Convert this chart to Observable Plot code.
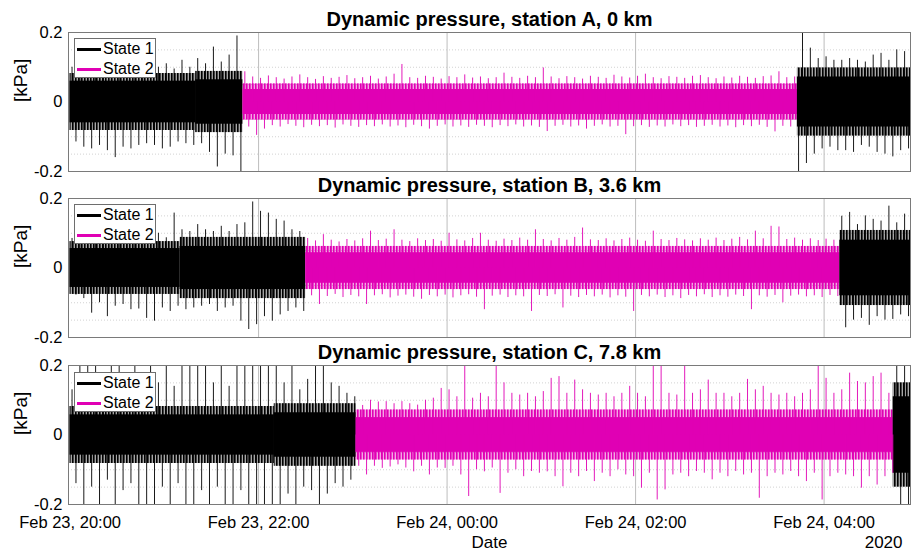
<!DOCTYPE html>
<html><head><meta charset="utf-8">
<script src="https://cdn.jsdelivr.net/npm/d3@7"></script>
<script src="https://cdn.jsdelivr.net/npm/@observablehq/plot@0.6"></script>
<style>
body{margin:0;background:#fff;}
#chart{position:relative;width:911px;height:551px;font-family:"Liberation Sans",Arial,Helvetica,sans-serif;overflow:hidden;}
.panel{position:absolute;left:0;}
.legend{position:absolute;left:74px;width:80px;height:38px;background:#fff;border:1px solid #6e6e6e;font-size:16px;}
.sw{position:absolute;left:2px;width:24px;height:3px;}
.lbl{position:absolute;left:28px;line-height:16px;white-space:nowrap;color:#000;}
</style></head>
<body><div id="chart"></div>
<script>
// ---------- data ----------
const titles = ["Dynamic pressure, station A, 0 km", "Dynamic pressure, station B, 3.6 km", "Dynamic pressure, station C, 7.8 km"];
const legendLabels = ["State 1", "State 2"];
const xTicks = ["2020-02-23T20:00Z", "2020-02-23T22:00Z", "2020-02-24T00:00Z", "2020-02-24T02:00Z", "2020-02-24T04:00Z"];
const yTicks = [-0.2, 0, 0.2];
const yGrid = [-0.15, -0.1, -0.05, 0.05, 0.1, 0.15];
const xDomain = ["2020-02-23T19:59Z", "2020-02-24T04:55Z"];
const binStart = "2020-02-23T20:00Z";
const binMinutes = 5;

// segments: start time, state, dense core amplitude, fuzzy band amplitude (kPa)
const segStartA = ["2020-02-23T20:00Z", "2020-02-23T21:20Z", "2020-02-23T21:50Z", "2020-02-24T03:43Z"];
const segStateA = [1, 1, 2, 1];
const coreA = [0.060, 0.064, 0.036, 0.072];
const fuzzA = [0.082, 0.088, 0.052, 0.098];

const segStartB = ["2020-02-23T20:00Z", "2020-02-23T21:10Z", "2020-02-23T22:30Z", "2020-02-24T04:10Z"];
const segStateB = [1, 1, 2, 1];
const coreB = [0.056, 0.062, 0.044, 0.080];
const fuzzB = [0.076, 0.088, 0.062, 0.108];

const segStartC = ["2020-02-23T20:00Z", "2020-02-23T22:10Z", "2020-02-23T23:02Z", "2020-02-24T04:44Z"];
const segStateC = [1, 1, 2, 1];
const coreC = [0.058, 0.064, 0.050, 0.110];
const fuzzC = [0.082, 0.090, 0.072, 0.150];

// peak values per 5-minute bin (kPa)
const upperA = [
 .100,.105,.095,.110,.100,.115,.100,.110,.120,.105,
 .110,.100,.110,.095,.120,.100,.125,.110,.158,.115,
 .135,.190,.087,.072,.068,.075,.070,.066,.072,.078,
 .070,.065,.073,.068,.071,.076,.067,.070,.074,.066,
 .072,.080,.108,.070,.068,.074,.071,.066,.073,.070,
 .078,.069,.072,.067,.070,.083,.071,.068,.074,.070,
 .098,.072,.067,.073,.070,.066,.074,.071,.068,.077,
 .072,.069,.074,.080,.070,.067,.073,.071,.068,.074,
 .076,.070,.067,.072,.069,.074,.071,.068,.073,.075,
 .087,.070,.072,.200,.155,.125,.130,.120,.120,.125,
 .120,.115,.135,.140,.120,.150,.145];
const lowerA = [
 -.115,-.130,-.135,-.125,-.140,-.160,-.130,-.135,-.125,-.120,
 -.125,-.135,-.130,-.115,-.120,-.125,-.120,-.145,-.187,-.150,
 -.155,-.210,-.072,-.096,-.078,-.068,-.072,-.065,-.070,-.074,
 -.067,-.071,-.068,-.075,-.066,-.070,-.073,-.068,-.071,-.066,
 -.072,-.069,-.074,-.067,-.071,-.078,-.070,-.066,-.072,-.069,
 -.073,-.067,-.070,-.074,-.068,-.071,-.066,-.072,-.069,-.073,
 -.085,-.070,-.067,-.072,-.069,-.078,-.070,-.066,-.072,-.070,
 -.094,-.071,-.068,-.073,-.069,-.072,-.066,-.071,-.068,-.073,
 -.070,-.067,-.072,-.069,-.074,-.068,-.071,-.067,-.073,-.086,
 -.070,-.072,-.210,-.177,-.150,-.135,-.130,-.140,-.140,-.145,
 -.125,-.130,-.145,-.150,-.158,-.140,-.135];
const upperB = [
 .085,.090,.095,.085,.100,.090,.095,.100,.090,.105,
 .095,.100,.087,.158,.110,.105,.125,.110,.105,.120,
 .105,.125,.130,.190,.163,.158,.140,.135,.110,.105,
 .085,.078,.096,.080,.075,.082,.078,.084,.106,.079,
 .083,.110,.080,.076,.084,.079,.082,.077,.100,.081,
 .078,.085,.100,.080,.077,.083,.079,.086,.080,.110,
 .082,.078,.085,.080,.088,.115,.081,.079,.084,.078,
 .082,.086,.080,.077,.106,.082,.079,.085,.081,.078,
 .084,.080,.086,.079,.083,.088,.081,.106,.084,.120,
 .118,.082,.086,.080,.084,.079,.083,.080,.149,.160,
 .125,.150,.140,.135,.178,.130,.155];
const lowerB = [
 -.078,-.088,-.130,-.100,-.140,-.110,-.105,-.120,-.118,-.145,
 -.153,-.115,-.125,-.110,-.120,-.115,-.110,-.105,-.125,-.115,
 -.110,-.153,-.177,-.163,-.140,-.153,-.135,-.125,-.115,-.125,
 -.080,-.105,-.082,-.076,-.085,-.079,-.083,-.105,-.080,-.077,
 -.086,-.081,-.078,-.084,-.090,-.079,-.083,-.078,-.086,-.080,
 -.077,-.084,-.120,-.081,-.078,-.085,-.080,-.083,-.125,-.079,
 -.082,-.077,-.115,-.081,-.085,-.079,-.083,-.078,-.086,-.080,
 -.084,-.125,-.079,-.083,-.078,-.085,-.080,-.088,-.079,-.083,
 -.077,-.085,-.080,-.084,-.078,-.082,-.120,-.080,-.084,-.079,
 -.100,-.081,-.078,-.083,-.080,-.085,-.079,-.082,-.172,-.150,
 -.145,-.165,-.140,-.150,-.148,-.135,-.140];
const upperC = [
 .130,.250,.250,.250,.140,.250,.250,.140,.250,.130,
 .250,.150,.250,.140,.250,.250,.250,.250,.150,.250,
 .140,.250,.250,.250,.250,.250,.250,.150,.250,.130,
 .160,.250,.250,.150,.140,.120,.110,.085,.100,.095,
 .096,.090,.096,.090,.086,.100,.106,.134,.130,.110,
 .250,.106,.120,.110,.210,.150,.120,.115,.120,.110,
 .125,.163,.168,.120,.158,.130,.120,.115,.120,.110,
 .120,.140,.120,.110,.250,.250,.120,.115,.200,.120,
 .130,.158,.120,.120,.110,.120,.160,.130,.140,.120,
 .115,.120,.110,.120,.130,.250,.163,.120,.130,.178,
 .154,.150,.168,.178,.120,.250,.250];
const lowerC = [
 -.140,-.250,-.150,-.250,-.130,-.250,-.160,-.140,-.250,-.250,
 -.250,-.150,-.250,-.140,-.250,-.250,-.160,-.250,-.150,-.250,
 -.250,-.160,-.250,-.250,-.250,-.250,-.250,-.170,-.250,-.150,
 -.160,-.250,-.170,-.140,-.150,-.130,-.090,-.115,-.090,-.096,
 -.092,-.086,-.095,-.106,-.090,-.115,-.095,-.096,-.090,-.115,
 -.177,-.100,-.106,-.095,-.168,-.110,-.100,-.120,-.105,-.110,
 -.106,-.120,-.149,-.110,-.120,-.105,-.134,-.110,-.120,-.100,
 -.115,-.120,-.153,-.110,-.187,-.158,-.115,-.110,-.120,-.105,
 -.110,-.129,-.110,-.120,-.105,-.115,-.110,-.182,-.120,-.110,
 -.115,-.105,-.120,-.134,-.110,-.187,-.120,-.110,-.115,-.120,
 -.153,-.120,-.144,-.120,-.110,-.250,-.250];

// ---------- drawing ----------
const COL = {1: "#000000", 2: "#e000b4"};
const FONT = '"Liberation Sans", Arial, Helvetica, sans-serif';
const t0 = new Date(xDomain[0]), t1 = new Date(xDomain[1]);
const tb = new Date(binStart);
const fmt = d3.utcFormat("%b %d, %H:%M");

const panels = [
  {id: "a", title: titles[0], segStart: segStartA, segState: segStateA, core: coreA, fuzz: fuzzA, upper: upperA, lower: lowerA, top: 0},
  {id: "b", title: titles[1], segStart: segStartB, segState: segStateB, core: coreB, fuzz: fuzzB, upper: upperB, lower: lowerB, top: 166},
  {id: "c", title: titles[2], segStart: segStartC, segState: segStateC, core: coreC, fuzz: fuzzC, upper: upperC, lower: lowerC, top: 333, xaxis: true}
];

const chart = document.getElementById("chart");
const tickDates = xTicks.map(s => new Date(s));
const NS = "http://www.w3.org/2000/svg";

// vertical-stripe patterns used to texture the dense band edges
function patternDefs(id) {
  return () => {
    const defs = document.createElementNS(NS, "defs");
    [1, 2].forEach(s => {
      const pat = document.createElementNS(NS, "pattern");
      pat.setAttribute("id", `hatch-${id}-${s}`);
      pat.setAttribute("patternUnits", "userSpaceOnUse");
      pat.setAttribute("width", "3"); pat.setAttribute("height", "20");
      const r = document.createElementNS(NS, "rect");
      r.setAttribute("x", "0"); r.setAttribute("y", "0");
      r.setAttribute("width", "1.6"); r.setAttribute("height", "20");
      r.setAttribute("fill", COL[s]);
      pat.appendChild(r);
      defs.appendChild(pat);
    });
    return defs;
  };
}

panels.forEach(p => {
  const starts = p.segStart.map(s => new Date(s));
  const segs = starts.map((s, k) => ({k, x1: s, x2: k + 1 < starts.length ? starts[k + 1] : t1,
    state: p.segState[k], core: p.core[k], fuzz: p.fuzz[k]}));
  const stateAt = t => { let s = segs[0].state; segs.forEach(g => { if (g.x1 <= t) s = g.state; }); return s; };
  const spikes = [];
  p.upper.forEach((v, i) => { const t = new Date(+tb + (i * binMinutes + 1.25) * 60000); spikes.push({t, v, state: stateAt(t)}); });
  p.lower.forEach((v, i) => { const t = new Date(+tb + (i * binMinutes + 3.75) * 60000); spikes.push({t, v, state: stateAt(t)}); });

  const marks = [
    patternDefs(p.id),
    Plot.ruleY(yGrid, {stroke: "#d2d2d2", strokeDasharray: "1,2"}),
    Plot.ruleX(tickDates.slice(1), {stroke: "#bdbdbd"}),
  ];
  segs.forEach(g => {
    marks.push(Plot.rect([g], {x1: "x1", x2: "x2", y1: d => -d.fuzz, y2: "fuzz", fill: COL[g.state], fillOpacity: 0.35}));
    marks.push(Plot.rect([g], {x1: "x1", x2: "x2", y1: d => -d.fuzz, y2: "fuzz", fill: `url(#hatch-${p.id}-${g.state})`}));
  });
  segs.forEach(g => {
    marks.push(Plot.rect([g], {x1: "x1", x2: "x2", y1: d => -d.core, y2: "core", fill: COL[g.state]}));
  });
  [1, 2].forEach(s => {
    marks.push(Plot.ruleX(spikes.filter(d => d.state === s), {x: "t", y1: 0, y2: "v", stroke: COL[s], strokeWidth: 1, strokeOpacity: 0.9, clip: true}));
  });
  marks.push(Plot.frame({stroke: "#7a7a7a"}));
  marks.push(Plot.text([p.title], {text: d => d, frameAnchor: "top", dy: -7, lineAnchor: "bottom", fontWeight: "bold", fontSize: 20, fill: "#000"}));
  marks.push(Plot.text(["[kPa]"], {text: d => d, frameAnchor: "left", dx: -48, rotate: -90, fontSize: 19, fill: "#000"}));
  if (p.xaxis) {
    marks.push(Plot.text(["Date"], {text: d => d, frameAnchor: "bottom", dy: 43.3, lineAnchor: "bottom", fontSize: 17, fill: "#000"}));
    marks.push(Plot.text(["2020"], {text: d => d, frameAnchor: "bottom-right", dy: 43.3, dx: -8, lineAnchor: "bottom", textAnchor: "end", fontSize: 17, fill: "#000"}));
  }

  const svg = Plot.plot({
    width: 911,
    height: p.xaxis ? 218 : 172,
    marginLeft: 68, marginRight: 1, marginTop: 32, marginBottom: p.xaxis ? 47 : 1,
    style: {background: "transparent", overflow: "visible", fontFamily: FONT, fontSize: "16.5px", color: "#000"},
    x: {type: "utc", domain: [t0, t1], ticks: tickDates, tickFormat: p.xaxis ? fmt : () => "", tickSize: 0, tickPadding: 12, label: null, axis: p.xaxis ? "bottom" : null},
    y: {domain: [-0.2, 0.2], ticks: yTicks, tickFormat: d => d === 0 ? "0" : String(d), tickSize: 0, tickPadding: 6, label: null},
    marks
  });
  const wrap = document.createElement("div");
  wrap.className = "panel";
  wrap.style.top = p.top + "px";
  wrap.appendChild(svg);
  chart.appendChild(wrap);

  const lg = document.createElement("div");
  lg.className = "legend";
  lg.style.top = (p.top + 38 + (p.xaxis ? 1 : 0)) + "px";
  legendLabels.forEach((lab, k) => {
    const sw = document.createElement("div");
    sw.className = "sw"; sw.style.top = (8.5 + 20 * k) + "px"; sw.style.background = COL[k + 1];
    const tx = document.createElement("div");
    tx.className = "lbl"; tx.style.top = (2 + 20 * k) + "px"; tx.textContent = lab;
    lg.appendChild(sw); lg.appendChild(tx);
  });
  chart.appendChild(lg);
});
</script></body></html>
